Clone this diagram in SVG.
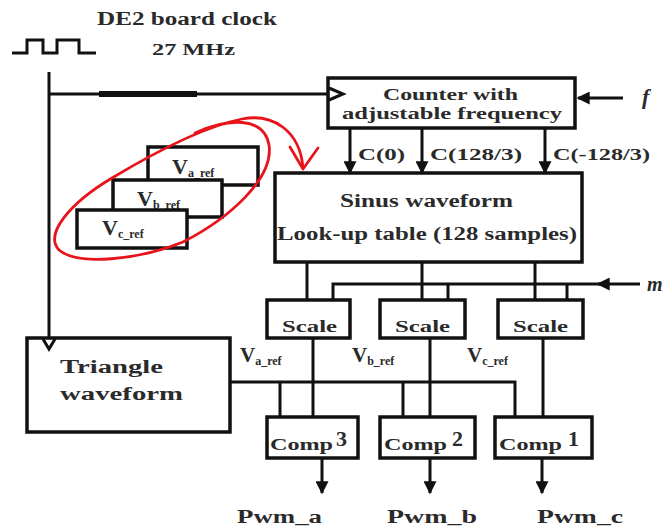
<svg xmlns="http://www.w3.org/2000/svg" width="667" height="527" viewBox="0 0 667 527">
<defs>
<style>
.box{fill:#fff;stroke:#111;stroke-width:3.5}
.ln{fill:none;stroke:#111;stroke-width:3}
.t{font-family:"Liberation Serif","Times New Roman",serif;font-weight:bold;fill:#2a2a2a}
.it{font-family:"Liberation Serif","Times New Roman",serif;font-style:italic;font-weight:bold;fill:#2a2a2a}
.red{fill:none;stroke:#e8141c;stroke-width:2.8;stroke-linecap:round;stroke-linejoin:round}
</style>
<marker id="ah" viewBox="0 0 10 10" refX="9" refY="5" markerWidth="13" markerHeight="13" orient="auto" markerUnits="userSpaceOnUse">
<path d="M0,0 L10,5 L0,10 z" fill="#111"/>
</marker>
</defs>
<rect width="667" height="527" fill="#fff"/>

<g id="clock">
<polyline class="ln" points="12,53 27,53 27,40 43,40 43,53 57,53 57,40 79,40 79,53 96,53" stroke-width="2.5"/>
<text class="t" x="97" y="25" font-size="18" textLength="180" lengthAdjust="spacingAndGlyphs">DE2 board clock</text>
<text class="t" x="152" y="55" font-size="16" textLength="83" lengthAdjust="spacingAndGlyphs">27 MHz</text>
</g>

<g id="connectors">
<line class="ln" x1="49" y1="72" x2="49" y2="338"/>
<line class="ln" x1="49" y1="94" x2="328" y2="94"/>
<line x1="99" y1="94" x2="197" y2="94" stroke="#111" stroke-width="6"/>
<line class="ln" x1="623" y1="98" x2="578" y2="98" marker-end="url(#ah)"/>
<line class="ln" x1="350" y1="128" x2="350" y2="173" marker-end="url(#ah)"/>
<line class="ln" x1="422" y1="128" x2="422" y2="173" marker-end="url(#ah)"/>
<line class="ln" x1="545" y1="128" x2="545" y2="173" marker-end="url(#ah)"/>
<line class="ln" x1="307" y1="262" x2="307" y2="300"/>
<line class="ln" x1="422" y1="262" x2="422" y2="300"/>
<line class="ln" x1="535" y1="262" x2="535" y2="300"/>
<polyline class="ln" points="333,300 333,284 604,284"/>
<line class="ln" x1="448" y1="284" x2="448" y2="300"/>
<line class="ln" x1="567" y1="284" x2="567" y2="300"/>
<line class="ln" x1="640" y1="284" x2="598" y2="284" marker-end="url(#ah)"/>
<line class="ln" x1="313" y1="338" x2="313" y2="417"/>
<line class="ln" x1="430" y1="338" x2="430" y2="417"/>
<line class="ln" x1="543" y1="338" x2="543" y2="417"/>
<polyline class="ln" points="230,382 515,382 515,417"/>
<line class="ln" x1="280" y1="382" x2="280" y2="417"/>
<line class="ln" x1="403" y1="382" x2="403" y2="417"/>
<line class="ln" x1="322" y1="458" x2="322" y2="493" marker-end="url(#ah)"/>
<line class="ln" x1="430" y1="458" x2="430" y2="493" marker-end="url(#ah)"/>
<line class="ln" x1="542" y1="458" x2="542" y2="493" marker-end="url(#ah)"/>
</g>

<g id="counter">
<rect class="box" x="328" y="78" width="247" height="50"/>
<polyline class="ln" points="329,88 343,94 329,100" stroke-width="2"/>
<text class="t" x="383" y="100" font-size="17" textLength="135" lengthAdjust="spacingAndGlyphs">Counter with</text>
<text class="t" x="342" y="119" font-size="17" textLength="220" lengthAdjust="spacingAndGlyphs">adjustable frequency</text>
<text class="it" x="642" y="104" font-size="22">f</text>
</g>

<g id="c-labels">
<text class="t" x="358" y="160" font-size="17" textLength="47" lengthAdjust="spacingAndGlyphs">C(0)</text>
<text class="t" x="430" y="160" font-size="17" textLength="92" lengthAdjust="spacingAndGlyphs">C(128/3)</text>
<text class="t" x="553" y="160" font-size="17" textLength="97" lengthAdjust="spacingAndGlyphs">C(-128/3)</text>
</g>

<g id="sinus">
<rect class="box" x="275" y="173" width="307" height="89"/>
<text class="t" x="340" y="207" font-size="18" textLength="173" lengthAdjust="spacingAndGlyphs">Sinus waveform</text>
<text class="t" x="277" y="240" font-size="18" textLength="300" lengthAdjust="spacingAndGlyphs">Look-up table (128 samples)</text>
</g>

<g id="vref-a">
<rect class="box" x="148" y="147" width="110" height="38"/>
<text class="t" x="172" y="174" font-size="22">V<tspan font-size="12" dy="3">a_ref</tspan></text>
</g>
<g id="vref-b">
<rect class="box" x="113" y="180" width="109" height="37"/>
<text class="t" x="137" y="206" font-size="22">V<tspan font-size="12" dy="3">b_ref</tspan></text>
</g>
<g id="vref-c">
<rect class="box" x="77" y="210" width="110" height="38"/>
<text class="t" x="102" y="235" font-size="22">V<tspan font-size="12" dy="3">c_ref</tspan></text>
</g>

<g id="highlight">
<path class="red" d="M195,133 C228,118 264,116 269,145 C274,178 230,218 183,242 C138,260 78,266 59,250 C44,234 70,203 112,178 C152,154 202,127 242,119 C272,113 300,130 303,168"/>
<polyline class="red" points="290,147 303,169 318,148"/>
</g>

<g id="scale1">
<rect class="box" x="267" y="300" width="83" height="38"/>
<text class="t" x="282" y="332" font-size="16" textLength="55" lengthAdjust="spacingAndGlyphs">Scale</text>
</g>
<g id="scale2">
<rect class="box" x="380" y="300" width="85" height="38"/>
<text class="t" x="395" y="332" font-size="16" textLength="55" lengthAdjust="spacingAndGlyphs">Scale</text>
</g>
<g id="scale3">
<rect class="box" x="498" y="300" width="85" height="38"/>
<text class="t" x="513" y="332" font-size="16" textLength="55" lengthAdjust="spacingAndGlyphs">Scale</text>
</g>
<text class="it" x="647" y="291" font-size="20">m</text>

<g id="triangle">
<rect class="box" x="27" y="338" width="203" height="94"/>
<polyline class="ln" points="43,339 49,349 55,339" stroke-width="2"/>
<text class="t" x="60" y="373" font-size="18" textLength="103" lengthAdjust="spacingAndGlyphs">Triangle</text>
<text class="t" x="60" y="400" font-size="18" textLength="123" lengthAdjust="spacingAndGlyphs">waveform</text>
</g>

<g id="ref-labels">
<text class="t" x="240" y="362" font-size="21">V<tspan font-size="12" dy="3">a_ref</tspan></text>
<text class="t" x="352" y="362" font-size="21">V<tspan font-size="12" dy="3">b_ref</tspan></text>
<text class="t" x="467" y="362" font-size="21">V<tspan font-size="12" dy="3">c_ref</tspan></text>
</g>

<g id="comp3">
<rect class="box" x="267" y="417" width="91" height="41"/>
<text class="t" x="270" y="450" font-size="16" textLength="63" lengthAdjust="spacingAndGlyphs">Comp</text>
<text class="t" x="336" y="446" font-size="22">3</text>
</g>
<g id="comp2">
<rect class="box" x="380" y="417" width="95" height="41"/>
<text class="t" x="384" y="450" font-size="16" textLength="63" lengthAdjust="spacingAndGlyphs">Comp</text>
<text class="t" x="452" y="446" font-size="22">2</text>
</g>
<g id="comp1">
<rect class="box" x="495" y="417" width="97" height="41"/>
<text class="t" x="499" y="450" font-size="16" textLength="63" lengthAdjust="spacingAndGlyphs">Comp</text>
<text class="t" x="568" y="446" font-size="22">1</text>
</g>

<g id="outputs">
<text class="t" x="237" y="523" font-size="18" textLength="85" lengthAdjust="spacingAndGlyphs">Pwm_a</text>
<text class="t" x="387" y="523" font-size="18" textLength="90" lengthAdjust="spacingAndGlyphs">Pwm_b</text>
<text class="t" x="537" y="523" font-size="18" textLength="86" lengthAdjust="spacingAndGlyphs">Pwm_c</text>
</g>
</svg>
